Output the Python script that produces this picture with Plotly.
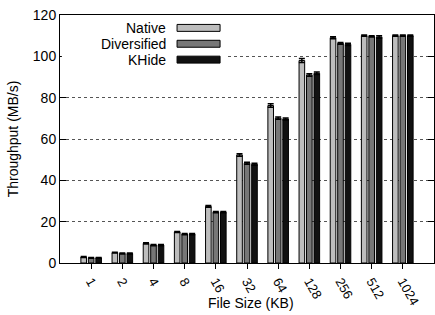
import plotly.graph_objects as go

sizes = ["1", "2", "4", "8", "16", "32", "64", "128", "256", "512", "1024"]
native = [2.9, 5.0, 9.5, 15.0, 27.4, 52.3, 76.2, 98.0, 109.0, 110.0, 110.0]
diversified = [2.5, 4.6, 8.7, 14.0, 24.6, 48.3, 70.1, 91.0, 106.3, 109.7, 110.0]
khide = [2.5, 4.6, 8.7, 14.0, 24.6, 47.8, 69.7, 91.8, 105.8, 109.4, 110.0]
native_err = [0.2, 0.2, 0.3, 0.3, 0.4, 0.6, 0.8, 1.0, 0.5, 0.3, 0.3]
diversified_err = [0.2, 0.2, 0.3, 0.3, 0.3, 0.5, 0.5, 0.6, 0.4, 0.3, 0.3]
khide_err = [0.2, 0.2, 0.3, 0.3, 0.3, 0.5, 0.5, 0.6, 0.5, 0.6, 0.3]

series = [
    ("Native", native, native_err, "#bdbdbd"),
    ("Diversified", diversified, diversified_err, "#777777"),
    ("KHide", khide, khide_err, "#111111"),
]

FONT = "Liberation Sans, Arial, Helvetica, sans-serif"

fig = go.Figure()
for name, vals, err, col in series:
    fig.add_trace(go.Bar(
        x=sizes, y=vals, name=name,
        marker=dict(color=col, line=dict(color="black", width=1)),
        error_y=dict(type="data", array=err, color="black", thickness=1.5, width=3),
        showlegend=False,
    ))

# manual legend (text left of swatch, gnuplot style)
shapes = [dict(type="rect", xref="paper", yref="paper", x0=0.005, x1=0.445, y0=0.79, y1=0.995,
               fillcolor="white", line=dict(width=0), layer="above")]
annotations = []
legend_y = [0.948, 0.884, 0.820]
for (name, vals, err, col), ly in zip(series, legend_y):
    shapes.append(dict(type="rect", xref="paper", yref="paper", x0=0.313, x1=0.428,
                       y0=ly - 0.014, y1=ly + 0.014, fillcolor=col,
                       line=dict(color="black", width=1), layer="above"))
    annotations.append(dict(xref="paper", yref="paper", x=0.29, y=ly, text=name, showarrow=False,
                            xanchor="right", yanchor="middle", height=15,
                            font=dict(size=14, color="black", family=FONT)))

# x-axis title placed as annotation (overlaps the rotated tick label band like the reference)
annotations.append(dict(xref="paper", yref="paper", x=0.51, y=-0.162, text="File Size (KB)",
                        showarrow=False, xanchor="center", yanchor="middle",
                        font=dict(size=14, color="black", family=FONT)))

fig.update_layout(
    width=435, height=315,
    margin=dict(l=60, r=1, t=15, b=52),
    paper_bgcolor="white", plot_bgcolor="white",
    font=dict(family=FONT, size=14, color="black"),
    barmode="group", bargap=0.28, bargroupgap=0.25,
    shapes=shapes, annotations=annotations,
)
fig.update_xaxes(
    type="category", range=[-1, 11], automargin=False,
    showline=True, linecolor="black", linewidth=1, mirror=True,
    ticks="outside", ticklen=5, tickcolor="black", tickangle=60,
    tickfont=dict(size=13), showgrid=False,
)
fig.update_yaxes(
    range=[0, 120], dtick=20, automargin=False,
    showline=True, linecolor="black", linewidth=1, mirror="ticks",
    ticks="inside", ticklen=6, tickcolor="black",
    showgrid=True, gridcolor="#555555", griddash="dot", gridwidth=1,
    zeroline=False, tickfont=dict(size=14),
    title=dict(text="Throughput (MB/s)", font=dict(size=14), standoff=10),
)
fig.write_html("out.html", config={"displayModeBar": False},
               post_script="document.body.style.margin='0';document.body.style.overflow='hidden';")
